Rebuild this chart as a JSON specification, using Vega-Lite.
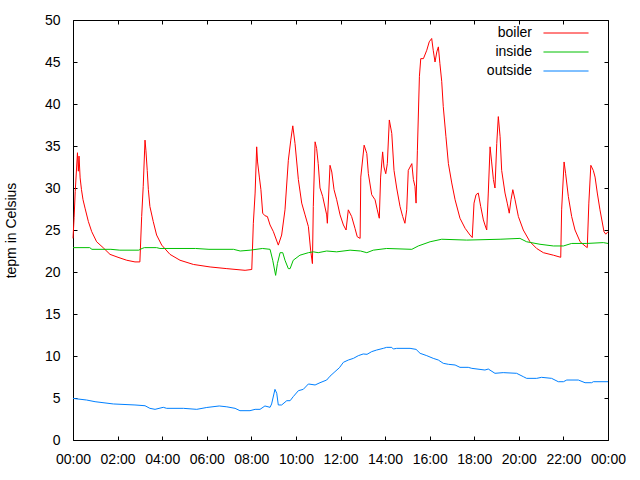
{
  "$schema": "https://vega.github.io/schema/vega-lite/v6.json",
  "width": 535,
  "height": 420,
  "autosize": {"type": "none"},
  "padding": {"left": 73, "top": 20, "right": 32, "bottom": 40},
  "background": "white",
  "config": {
    "font": "Liberation Sans",
    "view": {"stroke": "black", "strokeWidth": 1},
    "axis": {"domain": false, "grid": false, "tickColor": "black", "tickWidth": 1, "labelColor": "black", "labelFont": "Liberation Sans", "labelFontSize": 14, "titleFont": "Liberation Sans", "titleFontSize": 14, "titleFontWeight": "normal", "titleColor": "black", "labelFlush": false, "labelOverlap": false}
  },
  "datasets": {
    "temps": [
      {"t":0,"s":"boiler","v":24.0},{"t":0.05,"s":"boiler","v":26.5},{"t":0.1,"s":"boiler","v":29.6},{"t":0.2,"s":"boiler","v":34.2},{"t":0.24,"s":"boiler","v":32.0},{"t":0.27,"s":"boiler","v":33.8},{"t":0.32,"s":"boiler","v":31.2},{"t":0.38,"s":"boiler","v":29.8},{"t":0.45,"s":"boiler","v":28.6},{"t":0.54,"s":"boiler","v":27.6},{"t":0.69,"s":"boiler","v":26.0},{"t":0.84,"s":"boiler","v":24.8},{"t":1.06,"s":"boiler","v":23.6},{"t":1.35,"s":"boiler","v":22.9},{"t":1.66,"s":"boiler","v":22.1},{"t":2.02,"s":"boiler","v":21.75},{"t":2.41,"s":"boiler","v":21.4},{"t":2.78,"s":"boiler","v":21.2},{"t":3.0,"s":"boiler","v":21.2},{"t":3.08,"s":"boiler","v":26.6},{"t":3.15,"s":"boiler","v":30.2},{"t":3.23,"s":"boiler","v":35.7},{"t":3.27,"s":"boiler","v":34.5},{"t":3.33,"s":"boiler","v":32.1},{"t":3.38,"s":"boiler","v":29.8},{"t":3.45,"s":"boiler","v":27.8},{"t":3.6,"s":"boiler","v":26.0},{"t":3.75,"s":"boiler","v":24.4},{"t":3.98,"s":"boiler","v":23.2},{"t":4.35,"s":"boiler","v":22.1},{"t":4.8,"s":"boiler","v":21.4},{"t":5.4,"s":"boiler","v":20.9},{"t":6.15,"s":"boiler","v":20.6},{"t":6.9,"s":"boiler","v":20.4},{"t":7.72,"s":"boiler","v":20.2},{"t":8.02,"s":"boiler","v":20.3},{"t":8.09,"s":"boiler","v":25.8},{"t":8.17,"s":"boiler","v":29.4},{"t":8.24,"s":"boiler","v":34.9},{"t":8.28,"s":"boiler","v":33.1},{"t":8.36,"s":"boiler","v":31.3},{"t":8.43,"s":"boiler","v":29.8},{"t":8.51,"s":"boiler","v":27.0},{"t":8.61,"s":"boiler","v":26.7},{"t":8.72,"s":"boiler","v":26.6},{"t":8.84,"s":"boiler","v":25.6},{"t":8.99,"s":"boiler","v":24.8},{"t":9.21,"s":"boiler","v":23.2},{"t":9.36,"s":"boiler","v":24.4},{"t":9.51,"s":"boiler","v":27.4},{"t":9.66,"s":"boiler","v":33.3},{"t":9.77,"s":"boiler","v":35.7},{"t":9.86,"s":"boiler","v":37.4},{"t":9.96,"s":"boiler","v":35.3},{"t":10.11,"s":"boiler","v":31.0},{"t":10.26,"s":"boiler","v":28.2},{"t":10.41,"s":"boiler","v":26.8},{"t":10.56,"s":"boiler","v":25.4},{"t":10.66,"s":"boiler","v":22.6},{"t":10.74,"s":"boiler","v":21.0},{"t":10.78,"s":"boiler","v":27.8},{"t":10.86,"s":"boiler","v":35.5},{"t":10.93,"s":"boiler","v":34.7},{"t":11.0,"s":"boiler","v":32.9},{"t":11.08,"s":"boiler","v":30.0},{"t":11.2,"s":"boiler","v":29.0},{"t":11.38,"s":"boiler","v":26.8},{"t":11.41,"s":"boiler","v":25.8},{"t":11.53,"s":"boiler","v":32.7},{"t":11.61,"s":"boiler","v":31.9},{"t":11.71,"s":"boiler","v":29.8},{"t":11.83,"s":"boiler","v":28.6},{"t":11.98,"s":"boiler","v":26.8},{"t":12.13,"s":"boiler","v":25.6},{"t":12.25,"s":"boiler","v":25.0},{"t":12.35,"s":"boiler","v":27.4},{"t":12.5,"s":"boiler","v":26.6},{"t":12.65,"s":"boiler","v":25.2},{"t":12.75,"s":"boiler","v":24.2},{"t":12.88,"s":"boiler","v":24.0},{"t":12.91,"s":"boiler","v":31.3},{"t":13.06,"s":"boiler","v":35.1},{"t":13.18,"s":"boiler","v":34.1},{"t":13.25,"s":"boiler","v":31.7},{"t":13.4,"s":"boiler","v":29.2},{"t":13.55,"s":"boiler","v":28.6},{"t":13.65,"s":"boiler","v":27.4},{"t":13.74,"s":"boiler","v":26.4},{"t":13.8,"s":"boiler","v":31.3},{"t":13.89,"s":"boiler","v":34.3},{"t":13.95,"s":"boiler","v":32.5},{"t":14.03,"s":"boiler","v":31.7},{"t":14.1,"s":"boiler","v":32.9},{"t":14.19,"s":"boiler","v":38.1},{"t":14.3,"s":"boiler","v":36.5},{"t":14.4,"s":"boiler","v":32.1},{"t":14.52,"s":"boiler","v":30.0},{"t":14.67,"s":"boiler","v":27.8},{"t":14.79,"s":"boiler","v":26.6},{"t":14.89,"s":"boiler","v":25.8},{"t":14.97,"s":"boiler","v":27.4},{"t":15.04,"s":"boiler","v":32.1},{"t":15.2,"s":"boiler","v":32.9},{"t":15.27,"s":"boiler","v":31.0},{"t":15.34,"s":"boiler","v":30.2},{"t":15.39,"s":"boiler","v":28.2},{"t":15.45,"s":"boiler","v":34.5},{"t":15.54,"s":"boiler","v":43.3},{"t":15.6,"s":"boiler","v":45.4},{"t":15.72,"s":"boiler","v":45.4},{"t":15.87,"s":"boiler","v":46.4},{"t":15.98,"s":"boiler","v":47.4},{"t":16.09,"s":"boiler","v":47.8},{"t":16.16,"s":"boiler","v":46.4},{"t":16.24,"s":"boiler","v":45.0},{"t":16.32,"s":"boiler","v":46.2},{"t":16.39,"s":"boiler","v":46.8},{"t":16.46,"s":"boiler","v":44.8},{"t":16.54,"s":"boiler","v":42.7},{"t":16.61,"s":"boiler","v":39.7},{"t":16.73,"s":"boiler","v":36.1},{"t":16.84,"s":"boiler","v":32.9},{"t":16.99,"s":"boiler","v":30.6},{"t":17.14,"s":"boiler","v":28.6},{"t":17.36,"s":"boiler","v":26.4},{"t":17.59,"s":"boiler","v":25.2},{"t":17.81,"s":"boiler","v":24.4},{"t":17.91,"s":"boiler","v":24.1},{"t":17.99,"s":"boiler","v":28.2},{"t":18.08,"s":"boiler","v":29.2},{"t":18.18,"s":"boiler","v":29.4},{"t":18.29,"s":"boiler","v":27.8},{"t":18.41,"s":"boiler","v":26.2},{"t":18.48,"s":"boiler","v":25.6},{"t":18.56,"s":"boiler","v":25.0},{"t":18.63,"s":"boiler","v":29.4},{"t":18.71,"s":"boiler","v":34.9},{"t":18.78,"s":"boiler","v":33.1},{"t":18.86,"s":"boiler","v":31.0},{"t":18.93,"s":"boiler","v":30.0},{"t":19.01,"s":"boiler","v":35.3},{"t":19.08,"s":"boiler","v":38.5},{"t":19.16,"s":"boiler","v":36.1},{"t":19.23,"s":"boiler","v":32.1},{"t":19.38,"s":"boiler","v":29.4},{"t":19.48,"s":"boiler","v":28.2},{"t":19.57,"s":"boiler","v":27.0},{"t":19.65,"s":"boiler","v":28.6},{"t":19.73,"s":"boiler","v":29.8},{"t":19.83,"s":"boiler","v":28.6},{"t":19.98,"s":"boiler","v":26.6},{"t":20.2,"s":"boiler","v":25.0},{"t":20.5,"s":"boiler","v":23.6},{"t":20.8,"s":"boiler","v":22.8},{"t":21.1,"s":"boiler","v":22.3},{"t":21.55,"s":"boiler","v":22.0},{"t":21.88,"s":"boiler","v":21.75},{"t":21.92,"s":"boiler","v":27.4},{"t":22.03,"s":"boiler","v":33.1},{"t":22.1,"s":"boiler","v":31.7},{"t":22.22,"s":"boiler","v":29.0},{"t":22.37,"s":"boiler","v":26.6},{"t":22.52,"s":"boiler","v":25.0},{"t":22.75,"s":"boiler","v":23.6},{"t":22.97,"s":"boiler","v":23.1},{"t":23.07,"s":"boiler","v":22.9},{"t":23.14,"s":"boiler","v":28.2},{"t":23.23,"s":"boiler","v":32.7},{"t":23.34,"s":"boiler","v":32.1},{"t":23.42,"s":"boiler","v":31.3},{"t":23.52,"s":"boiler","v":29.4},{"t":23.64,"s":"boiler","v":27.4},{"t":23.82,"s":"boiler","v":24.8},{"t":23.9,"s":"boiler","v":24.5},{"t":24.0,"s":"boiler","v":24.8},
      {"t":0,"s":"inside","v":22.9},{"t":0.75,"s":"inside","v":22.9},{"t":0.85,"s":"inside","v":22.7},{"t":1.7,"s":"inside","v":22.7},{"t":2.1,"s":"inside","v":22.6},{"t":2.95,"s":"inside","v":22.6},{"t":3.1,"s":"inside","v":22.8},{"t":3.2,"s":"inside","v":22.9},{"t":3.75,"s":"inside","v":22.9},{"t":3.9,"s":"inside","v":22.8},{"t":5.5,"s":"inside","v":22.8},{"t":6.1,"s":"inside","v":22.7},{"t":7.2,"s":"inside","v":22.7},{"t":7.5,"s":"inside","v":22.5},{"t":7.95,"s":"inside","v":22.6},{"t":8.5,"s":"inside","v":22.8},{"t":8.84,"s":"inside","v":22.7},{"t":8.96,"s":"inside","v":21.4},{"t":9.09,"s":"inside","v":19.6},{"t":9.17,"s":"inside","v":21.0},{"t":9.29,"s":"inside","v":22.3},{"t":9.41,"s":"inside","v":22.3},{"t":9.51,"s":"inside","v":21.4},{"t":9.66,"s":"inside","v":20.4},{"t":9.74,"s":"inside","v":20.4},{"t":9.88,"s":"inside","v":21.4},{"t":10.18,"s":"inside","v":22.0},{"t":10.56,"s":"inside","v":22.3},{"t":10.78,"s":"inside","v":22.4},{"t":11.0,"s":"inside","v":22.3},{"t":11.38,"s":"inside","v":22.5},{"t":11.83,"s":"inside","v":22.4},{"t":12.43,"s":"inside","v":22.6},{"t":12.9,"s":"inside","v":22.5},{"t":13.18,"s":"inside","v":22.3},{"t":13.47,"s":"inside","v":22.6},{"t":14.07,"s":"inside","v":22.8},{"t":15.2,"s":"inside","v":22.7},{"t":15.49,"s":"inside","v":23.1},{"t":16.02,"s":"inside","v":23.6},{"t":16.54,"s":"inside","v":23.9},{"t":17.66,"s":"inside","v":23.8},{"t":19.16,"s":"inside","v":23.9},{"t":20.05,"s":"inside","v":24.0},{"t":20.35,"s":"inside","v":23.6},{"t":20.95,"s":"inside","v":23.3},{"t":21.55,"s":"inside","v":23.1},{"t":22.0,"s":"inside","v":23.1},{"t":22.37,"s":"inside","v":23.4},{"t":23.05,"s":"inside","v":23.4},{"t":23.79,"s":"inside","v":23.5},{"t":24.0,"s":"inside","v":23.4},
      {"t":0,"s":"outside","v":4.95},{"t":0.61,"s":"outside","v":4.76},{"t":0.99,"s":"outside","v":4.56},{"t":1.81,"s":"outside","v":4.29},{"t":2.78,"s":"outside","v":4.17},{"t":3.23,"s":"outside","v":4.08},{"t":3.45,"s":"outside","v":3.77},{"t":3.68,"s":"outside","v":3.65},{"t":4.05,"s":"outside","v":3.89},{"t":4.2,"s":"outside","v":3.77},{"t":4.95,"s":"outside","v":3.77},{"t":5.55,"s":"outside","v":3.65},{"t":6.0,"s":"outside","v":3.87},{"t":6.56,"s":"outside","v":4.05},{"t":6.9,"s":"outside","v":3.95},{"t":7.27,"s":"outside","v":3.77},{"t":7.49,"s":"outside","v":3.49},{"t":7.94,"s":"outside","v":3.49},{"t":8.17,"s":"outside","v":3.65},{"t":8.39,"s":"outside","v":3.65},{"t":8.61,"s":"outside","v":4.05},{"t":8.84,"s":"outside","v":3.89},{"t":8.91,"s":"outside","v":4.29},{"t":9.06,"s":"outside","v":6.03},{"t":9.14,"s":"outside","v":5.56},{"t":9.21,"s":"outside","v":4.17},{"t":9.36,"s":"outside","v":4.17},{"t":9.59,"s":"outside","v":4.68},{"t":9.74,"s":"outside","v":4.68},{"t":9.88,"s":"outside","v":5.16},{"t":10.11,"s":"outside","v":5.87},{"t":10.33,"s":"outside","v":6.03},{"t":10.56,"s":"outside","v":6.67},{"t":10.86,"s":"outside","v":6.55},{"t":11.08,"s":"outside","v":6.82},{"t":11.38,"s":"outside","v":7.14},{"t":11.53,"s":"outside","v":7.6},{"t":11.75,"s":"outside","v":8.13},{"t":11.95,"s":"outside","v":8.6},{"t":12.13,"s":"outside","v":9.25},{"t":12.35,"s":"outside","v":9.52},{"t":12.58,"s":"outside","v":9.72},{"t":12.8,"s":"outside","v":10.04},{"t":13.02,"s":"outside","v":10.24},{"t":13.19,"s":"outside","v":10.2},{"t":13.4,"s":"outside","v":10.52},{"t":13.62,"s":"outside","v":10.71},{"t":13.92,"s":"outside","v":10.91},{"t":14.07,"s":"outside","v":11.03},{"t":14.3,"s":"outside","v":11.03},{"t":14.37,"s":"outside","v":10.83},{"t":14.52,"s":"outside","v":10.91},{"t":15.12,"s":"outside","v":10.91},{"t":15.39,"s":"outside","v":10.79},{"t":15.57,"s":"outside","v":10.32},{"t":15.87,"s":"outside","v":10.04},{"t":16.16,"s":"outside","v":9.72},{"t":16.39,"s":"outside","v":9.52},{"t":16.61,"s":"outside","v":9.13},{"t":16.84,"s":"outside","v":9.01},{"t":17.14,"s":"outside","v":8.93},{"t":17.36,"s":"outside","v":8.65},{"t":17.73,"s":"outside","v":8.65},{"t":17.89,"s":"outside","v":8.53},{"t":18.48,"s":"outside","v":8.33},{"t":18.63,"s":"outside","v":8.45},{"t":18.93,"s":"outside","v":7.94},{"t":19.3,"s":"outside","v":8.02},{"t":19.9,"s":"outside","v":7.94},{"t":20.2,"s":"outside","v":7.54},{"t":20.35,"s":"outside","v":7.34},{"t":20.8,"s":"outside","v":7.34},{"t":21.02,"s":"outside","v":7.46},{"t":21.47,"s":"outside","v":7.34},{"t":21.77,"s":"outside","v":6.94},{"t":22.0,"s":"outside","v":6.94},{"t":22.15,"s":"outside","v":7.14},{"t":22.67,"s":"outside","v":7.14},{"t":22.97,"s":"outside","v":6.82},{"t":23.27,"s":"outside","v":6.82},{"t":23.34,"s":"outside","v":6.94},{"t":24.0,"s":"outside","v":6.94}
    ]
  },
  "data": {"name": "temps"},
  "layer": [
    {
      "mark": {"type": "line", "strokeWidth": 1, "interpolate": "linear"},
      "encoding": {
        "x": {"field": "t", "type": "quantitative", "scale": {"domain": [0, 24], "nice": false, "zero": false},
              "axis": {"orient": "bottom", "title": null, "values": [0,2,4,6,8,10,12,14,16,18,20,22,24], "tickSize": -4, "labelPadding": 16,
                       "labelExpr": "(datum.value % 24 < 10 ? '0' : '') + (datum.value % 24) + ':00'"}},
        "y": {"field": "v", "type": "quantitative", "scale": {"domain": [0, 50], "nice": false},
              "axis": {"orient": "left", "title": "tepm in Celsius", "values": [0,5,10,15,20,25,30,35,40,45,50], "tickSize": -4, "labelPadding": 17, "titlePadding": 26}},
        "color": {"field": "s", "type": "nominal",
                  "scale": {"domain": ["boiler", "inside", "outside"], "range": ["#ff0000", "#00c000", "#0080ff"]},
                  "legend": {"title": null, "orient": "none", "legendX": 404, "legendY": 6, "padding": 0,
                             "symbolType": "M-4,0H4", "symbolSize": 127, "symbolStrokeWidth": 1, "symbolFillColor": "transparent",
                             "labelAlign": "right", "labelOffset": -41, "symbolOffset": 82,
                             "labelFont": "Liberation Sans", "labelFontSize": 14, "labelColor": "black", "rowPadding": 5}}
      }
    },
    {
      "mark": {"type": "line", "strokeOpacity": 0},
      "encoding": {
        "x": {"field": "t", "type": "quantitative", "axis": {"orient": "top", "title": null, "labels": false, "values": [0,2,4,6,8,10,12,14,16,18,20,22,24], "tickSize": -4}},
        "y": {"field": "v", "type": "quantitative", "axis": {"orient": "right", "title": null, "labels": false, "values": [0,5,10,15,20,25,30,35,40,45,50], "tickSize": -4}},
        "detail": {"field": "s", "type": "nominal"}
      }
    }
  ],
  "resolve": {"axis": {"x": "independent", "y": "independent"}}
}
